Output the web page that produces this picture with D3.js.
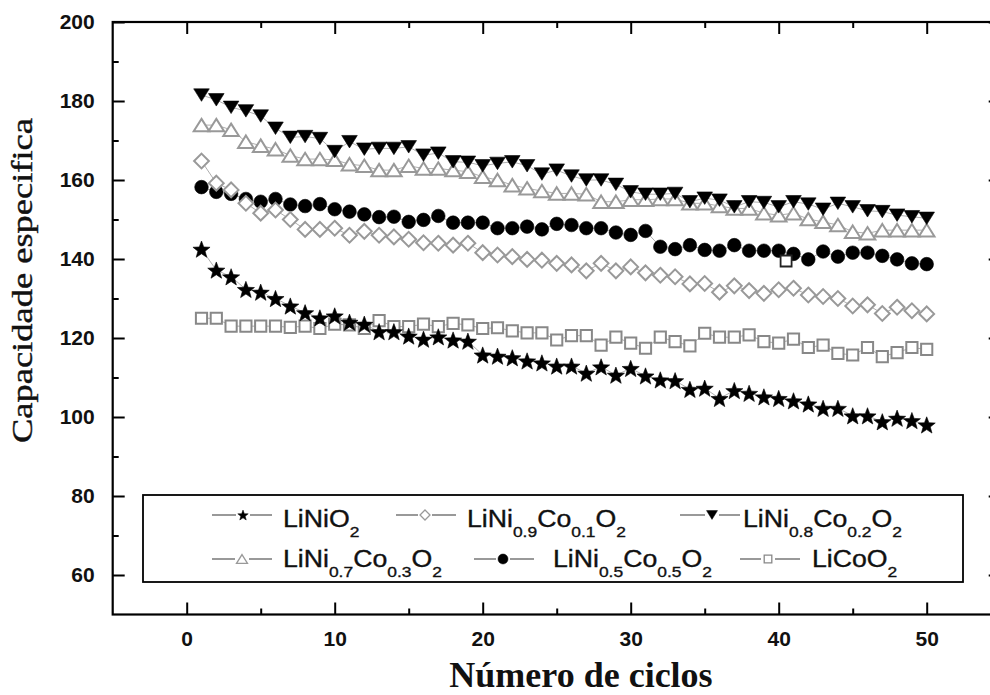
<!DOCTYPE html>
<html>
<head>
<meta charset="utf-8" />
<title>Capacidade especifica</title>
<style>
  body { margin: 0; background: #fff; }
</style>
</head>
<body>
<div id="chart"></div>
<script src="https://d3js.org/d3.v7.min.js"></script>
<script>
// ciclos
const cycles = [1,2,3,4,5,6,7,8,9,10,11,12,13,14,15,16,17,18,19,20,21,22,23,24,25,
  26,27,28,29,30,31,32,33,34,35,36,37,38,39,40,41,42,43,44,45,46,47,48,49,50];

// capacidade especifica por material
const liNiO2 = [142.5,137.2,135.5,132.3,131.6,130.0,128.1,126.4,125.1,125.6,124.0,123.5,121.6,121.6,120.5,
  119.7,120.3,119.5,119.2,115.7,115.4,115.0,114.2,113.7,112.9,112.9,111.1,112.7,110.6,112.3,
  110.4,109.4,109.2,107.0,107.3,104.7,106.7,106.0,105.1,104.7,104.1,103.3,102.2,102.2,100.3,
  100.3,98.8,99.7,99.1,98.0];
const ni09co01 = [164.8,159.2,157.5,154.1,151.6,152.4,150.0,147.5,147.5,147.8,146.0,147.0,146.0,145.6,145.0,
  144.1,144.0,143.5,144.0,141.6,141.0,140.6,139.9,139.7,138.9,138.5,137.0,138.9,137.0,138.0,
  136.5,135.9,135.5,133.7,133.8,131.6,133.2,132.0,131.3,132.2,132.6,130.9,130.5,130.0,128.1,
  128.4,126.2,127.8,126.9,126.1];
const ni08co02 = [181.5,180.3,178.4,177.5,176.2,173.1,170.8,171.0,170.5,167.2,169.7,167.8,168.0,168.0,168.4,
  166.3,166.8,164.6,164.5,163.6,164.2,164.6,163.6,161.5,162.5,161.0,160.0,160.0,158.9,157.0,
  156.4,156.4,156.6,154.5,155.4,154.9,153.2,154.5,154.3,153.2,154.5,153.9,152.6,154.1,153.2,
  152.2,152.0,151.1,150.7,150.3];
const ni07co03 = [173.9,173.9,172.7,169.7,168.7,167.8,166.2,165.3,165.3,165.1,164.0,163.6,162.5,162.5,163.6,
  162.9,162.9,162.5,162.1,160.8,160.0,158.7,157.9,157.2,156.6,156.6,156.4,154.5,154.5,155.0,
  155.0,155.2,155.2,154.1,154.1,153.4,152.8,152.8,151.6,151.1,151.6,150.1,149.4,148.6,146.9,
  146.5,147.3,147.3,147.3,147.3];
const ni05co05 = [158.2,157.0,156.5,155.2,154.5,155.2,153.8,153.4,153.9,152.6,152.0,151.3,150.6,150.7,149.4,
  149.9,150.9,149.2,149.2,149.2,147.8,147.8,148.2,147.5,148.9,148.6,147.8,147.8,146.7,146.1,
  147.1,143.1,142.5,143.5,142.3,142.1,143.5,142.1,142.1,142.1,141.3,139.9,141.9,140.6,141.6,
  141.6,140.8,139.9,138.9,138.7];
const liCoO2 = [125.0,125.0,123.0,123.0,123.0,123.0,122.7,123.0,122.4,123.5,123.3,122.4,124.4,122.9,122.9,
  123.5,122.9,123.7,123.3,122.4,122.6,121.8,121.3,121.3,119.5,120.6,120.6,118.2,120.2,118.7,
  117.4,120.2,119.1,118.0,121.2,120.2,120.2,120.8,119.1,118.7,119.7,117.6,118.2,116.1,115.7,
  117.6,115.3,116.3,117.6,117.1];

// marcador solto na figura original
const strayPoint = [[40.5, 139.5]];

const xTicks = [0, 10, 20, 30, 40, 50];
const xMinor = [5, 15, 25, 35, 45];
const yTicks = [60, 80, 100, 120, 140, 160, 180, 200];
const yMinor = [70, 90, 110, 130, 150, 170, 190];

const width = 990, height = 695;

const x = d3.scaleLinear().domain([-5, 55]).range([112.7, 1000.7]);
const y = d3.scaleLinear().domain([50, 200]).range([614.5, 22]);

// marker shapes
function markerPath(type, s) {
  if (type === "star") {
    const pts = [];
    for (let i = 0; i < 10; i++) {
      const r = i % 2 === 0 ? s : s * 0.42;
      const a = -Math.PI / 2 + i * Math.PI / 5;
      pts.push([r * Math.cos(a), r * Math.sin(a) + s * 0.1]);
    }
    return "M" + pts.map(p => p.join(",")).join("L") + "Z";
  }
  if (type === "diamond") return `M0,${-s}L${s},0L0,${s}L${-s},0Z`;
  if (type === "triDown") return `M${-s},${-s * 0.8}L${s},${-s * 0.8}L0,${s * 0.8}Z`;
  if (type === "triUp") return `M0,${-s * 0.8}L${s},${s * 0.8}L${-s},${s * 0.8}Z`;
  if (type === "circle") return `M${s},0A${s},${s} 0 1 1 ${-s},0A${s},${s} 0 1 1 ${s},0Z`;
  if (type === "square") return `M${-s},${-s}h${2 * s}v${2 * s}h${-2 * s}Z`;
}

const series = [
  {values: liNiO2,   shape: "star",    size: 9,   legend: 5.5, fill: "#000", stroke: "#000", sw: 0.6},
  {values: ni09co01, shape: "diamond", size: 7.4, legend: 5,   fill: "#fff", stroke: "#999", sw: 2},
  {values: ni08co02, shape: "triDown", size: 7.8, legend: 5.5, fill: "#000", stroke: "#000", sw: 0.6},
  {values: ni07co03, shape: "triUp",   size: 7.8, legend: 5.5, fill: "#fff", stroke: "#999", sw: 2},
  {values: ni05co05, shape: "circle",  size: 6.8, legend: 5,   fill: "#000", stroke: "#000", sw: 0.6},
  {values: liCoO2,   shape: "square",  size: 5.6, legend: 3.8, fill: "#fff", stroke: "#888", sw: 2}
];

const svg = d3.select("#chart").append("svg")
  .attr("width", width)
  .attr("height", height)
  .style("background", "#fff");

// axes (ticks inward)
function styleAxis(g) {
  g.select(".domain").remove();
  g.selectAll(".tick line").attr("stroke", "#000").attr("stroke-width", 2);
  g.selectAll("text")
    .attr("font-family", "'Liberation Sans', Arial, sans-serif")
    .attr("font-weight", "bold")
    .attr("font-size", 21)
    .attr("fill", "#111");
}

svg.append("g").attr("transform", `translate(0,${y.range()[0]})`)
  .call(d3.axisBottom(x).tickValues(xTicks).tickSize(-12).tickPadding(17).tickFormat(d3.format("d")))
  .call(styleAxis);
svg.append("g").attr("transform", `translate(0,${y.range()[0]})`)
  .call(d3.axisBottom(x).tickValues(xMinor).tickSize(-6).tickFormat(""))
  .call(styleAxis);
svg.append("g").attr("transform", `translate(0,${y.range()[1]})`)
  .call(d3.axisTop(x).tickValues(xTicks).tickSize(-12).tickFormat(""))
  .call(styleAxis);
svg.append("g").attr("transform", `translate(0,${y.range()[1]})`)
  .call(d3.axisTop(x).tickValues(xMinor).tickSize(-6).tickFormat(""))
  .call(styleAxis);

svg.append("g").attr("transform", `translate(${x.range()[0]},0)`)
  .call(d3.axisLeft(y).tickValues(yTicks).tickSize(-12).tickPadding(18).tickFormat(d3.format("d")))
  .call(styleAxis);
svg.append("g").attr("transform", `translate(${x.range()[0]},0)`)
  .call(d3.axisLeft(y).tickValues(yMinor).tickSize(-6).tickFormat(""))
  .call(styleAxis);
svg.append("g").attr("transform", `translate(${x.range()[1]},0)`)
  .call(d3.axisRight(y).tickValues(yTicks).tickSize(-12).tickFormat(""))
  .call(styleAxis);
svg.append("g").attr("transform", `translate(${x.range()[1]},0)`)
  .call(d3.axisRight(y).tickValues(yMinor).tickSize(-6).tickFormat(""))
  .call(styleAxis);

// frame
svg.append("rect")
  .attr("x", x.range()[0]).attr("y", y.range()[1])
  .attr("width", x.range()[1] - x.range()[0])
  .attr("height", y.range()[0] - y.range()[1])
  .attr("fill", "none").attr("stroke", "#000").attr("stroke-width", 2.2);

// series: thin connecting line + markers
const line = d3.line().x((d, i) => x(cycles[i])).y(d => y(d));

series.forEach(s => {
  svg.append("path")
    .datum(s.values)
    .attr("d", line)
    .attr("fill", "none")
    .attr("stroke", "#999")
    .attr("stroke-width", 0.8);
});

series.slice().reverse().forEach(s => {
  svg.append("g")
    .selectAll("path")
    .data(s.values)
    .join("path")
    .attr("transform", (d, i) => `translate(${x(cycles[i])},${y(d)})`)
    .attr("d", markerPath(s.shape, s.size))
    .attr("fill", s.fill)
    .attr("stroke", s.stroke)
    .attr("stroke-width", s.sw)
    .attr("stroke-linejoin", "miter");
});

svg.append("g")
  .selectAll("path")
  .data(strayPoint)
  .join("path")
  .attr("transform", d => `translate(${x(d[0])},${y(d[1])})`)
  .attr("d", markerPath("square", 5.5))
  .attr("fill", "#fff")
  .attr("stroke", "#222")
  .attr("stroke-width", 1.8);

// legend
const legendItems = [
  {s: 0, row: 0, lx: 212, sx: 243, tx: 283, parts: [["LiNiO", 0], ["2", 1]]},
  {s: 1, row: 0, lx: 396, sx: 425, tx: 467, parts: [["LiNi", 0], ["0.9", 1], ["Co", 0], ["0.1", 1], ["O", 0], ["2", 1]]},
  {s: 2, row: 0, lx: 680, sx: 712, tx: 743, parts: [["LiNi", 0], ["0.8", 1], ["Co", 0], ["0.2", 1], ["O", 0], ["2", 1]]},
  {s: 3, row: 1, lx: 212, sx: 242, tx: 283, parts: [["LiNi", 0], ["0.7", 1], ["Co", 0], ["0.3", 1], ["O", 0], ["2", 1]]},
  {s: 4, row: 1, lx: 474, sx: 503, tx: 553, parts: [["LiNi", 0], ["0.5", 1], ["Co", 0], ["0.5", 1], ["O", 0], ["2", 1]]},
  {s: 5, row: 1, lx: 740, sx: 768, tx: 812, parts: [["LiCoO", 0], ["2", 1]]}
];
const rowSymbolY = [515, 559];
const rowBaseY = [527, 566.5];

const legend = svg.append("g");
legend.append("rect")
  .attr("x", 143).attr("y", 495)
  .attr("width", 820).attr("height", 87)
  .attr("fill", "#fff").attr("stroke", "#000").attr("stroke-width", 1.8);

legendItems.forEach(item => {
  const s = series[item.s];
  const cy = rowSymbolY[item.row];
  // dash - marker - dash, as in the original key
  [[item.lx, item.sx - 7], [item.sx + 7, item.lx + 60]].forEach(([a, b]) => {
    legend.append("line")
      .attr("x1", a).attr("x2", b)
      .attr("y1", cy).attr("y2", cy)
      .attr("stroke", "#777").attr("stroke-width", 1.5);
  });
  legend.append("path")
    .attr("transform", `translate(${item.sx},${cy})`)
    .attr("d", markerPath(s.shape, s.legend))
    .attr("fill", s.fill)
    .attr("stroke", s.stroke)
    .attr("stroke-width", s.fill === "#fff" ? 1.3 : 0.5);
  const t = legend.append("text")
    .attr("transform", `translate(${item.tx},${rowBaseY[item.row]}) scale(1.16,1)`)
    .attr("font-family", "'Liberation Sans', Arial, sans-serif")
    .attr("font-size", 23)
    .attr("stroke", "#111")
    .attr("stroke-width", 0.35)
    .attr("fill", "#111");
  let shifted = false;
  item.parts.forEach(([txt, sub]) => {
    const ts = t.append("tspan").text(txt);
    if (sub && !shifted) { ts.attr("dy", 10).attr("font-size", 15); shifted = true; }
    else if (sub) { ts.attr("font-size", 15); }
    else if (!sub && shifted) { ts.attr("dy", -10); shifted = false; }
  });
});

// axis titles
svg.append("text")
  .attr("x", 581).attr("y", 687)
  .attr("text-anchor", "middle")
  .attr("font-family", "'Liberation Serif', 'Times New Roman', serif")
  .attr("font-weight", "bold")
  .attr("font-size", 36)
  .attr("fill", "#111")
  .text("Número de ciclos");

svg.append("text")
  .attr("transform", "translate(32,280.5) rotate(-90)")
  .attr("text-anchor", "middle")
  .attr("font-family", "'Liberation Serif', 'Times New Roman', serif")
  .attr("font-size", 29)
  .attr("textLength", 325)
  .attr("lengthAdjust", "spacingAndGlyphs")
  .attr("stroke", "#111")
  .attr("stroke-width", 0.4)
  .attr("fill", "#111")
  .text("Capacidade especifica");
</script>
</body>
</html>
